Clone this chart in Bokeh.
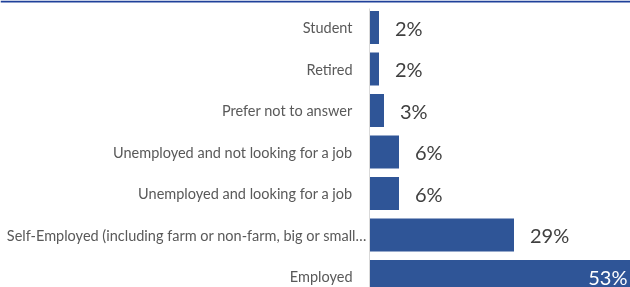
from bokeh.plotting import figure
from bokeh.models import Range1d, BoxAnnotation, ColumnDataSource
from bokeh.embed import file_html
from bokeh.resources import INLINE
from bokeh.core.properties import value

# ---- data (bottom to top) ----
categories = [
    "Employed",
    "Self-Employed (including farm or non-farm, big or small\u2026",
    "Unemployed and looking for a job",
    "Unemployed and not looking for a job",
    "Prefer not to answer",
    "Retired",
    "Student",
]
shares = [53, 29, 6, 6, 3, 2, 2]

# ---- layout constants ----
W, H = 630, 287
PX_PER_UNIT_X = 5.0
ZERO_PX = 368.5
ROW_PX = 41.5
FIRST_CENTER_FROM_TOP = 27.0
LAST_CENTER_FROM_TOP = 276.0

n = len(categories)
ys = list(range(n))
x_start = -ZERO_PX / PX_PER_UNIT_X
x_end = (W - ZERO_PX) / PX_PER_UNIT_X
y_end = (n - 1) + FIRST_CENTER_FROM_TOP / ROW_PX
y_start = -(H - LAST_CENTER_FROM_TOP) / ROW_PX

p = figure(
    width=W, height=H,
    x_range=Range1d(x_start, x_end), y_range=Range1d(y_start, y_end),
    output_backend="svg", toolbar_location=None,
    min_border=0, outline_line_color=None,
)
p.styles = {"position": "fixed", "left": "0px", "top": "0px"}
p.xaxis.visible = False
p.yaxis.visible = False
p.grid.visible = False
p.background_fill_color = "white"
p.border_fill_color = "white"

max_v = max(shares)
truncated = [c.endswith("\u2026") for c in categories]
src = ColumnDataSource(dict(y=ys, v=shares))
lab_normal = ColumnDataSource(dict(
    y=[y for y, t in zip(ys, truncated) if not t],
    cat=[c for c, t in zip(categories, truncated) if not t],
))
lab_trunc = ColumnDataSource(dict(
    y=[y for y, t in zip(ys, truncated) if t],
    cat=[c for c, t in zip(categories, truncated) if t],
))
inside = ColumnDataSource(dict(
    y=[y for y, s in zip(ys, shares) if s == max_v],
    v=[s for s in shares if s == max_v],
    lab=[f"{s}%" for s in shares if s == max_v],
))
outside = ColumnDataSource(dict(
    y=[y for y, s in zip(ys, shares) if s != max_v],
    v=[s for s in shares if s != max_v],
    lab=[f"{s}%" for s in shares if s != max_v],
))

# axis line (light gray) and top blue rule
p.add_layout(BoxAnnotation(left=0, right=0.2, top=y_end - 8 / ROW_PX, bottom=y_start,
                           fill_color="#D9D9D9", fill_alpha=1, line_color=None))
p.add_layout(BoxAnnotation(top=y_end, bottom=y_end - 2 / ROW_PX,
                           fill_color="#1F409A", fill_alpha=1, line_color=None))

p.hbar(y="y", left=0, right="v", height=0.795, source=src,
       fill_color="#2F5597", line_color=None)

label_style = dict(text_align="right", text_baseline="middle",
                   text_font=value("Lato"), text_font_size="14.5px",
                   text_color="#595959")
p.text(x=0, y="y", text="cat", source=lab_normal, x_offset=-16.5, **label_style)
p.text(x=0, y="y", text="cat", source=lab_trunc, x_offset=-2, **label_style)

p.text(x="v", y="y", text="lab", source=outside, x_offset=16,
       text_align="left", text_baseline="middle",
       text_font=value("Lato"), text_font_size="20px", text_color="#404040")
p.text(x="v", y="y", text="lab", source=inside, x_offset=-6.5,
       text_align="right", text_baseline="middle",
       text_font=value("Lato"), text_font_size="20px", text_color="white")

open("out.html", "w").write(file_html(p, INLINE))
